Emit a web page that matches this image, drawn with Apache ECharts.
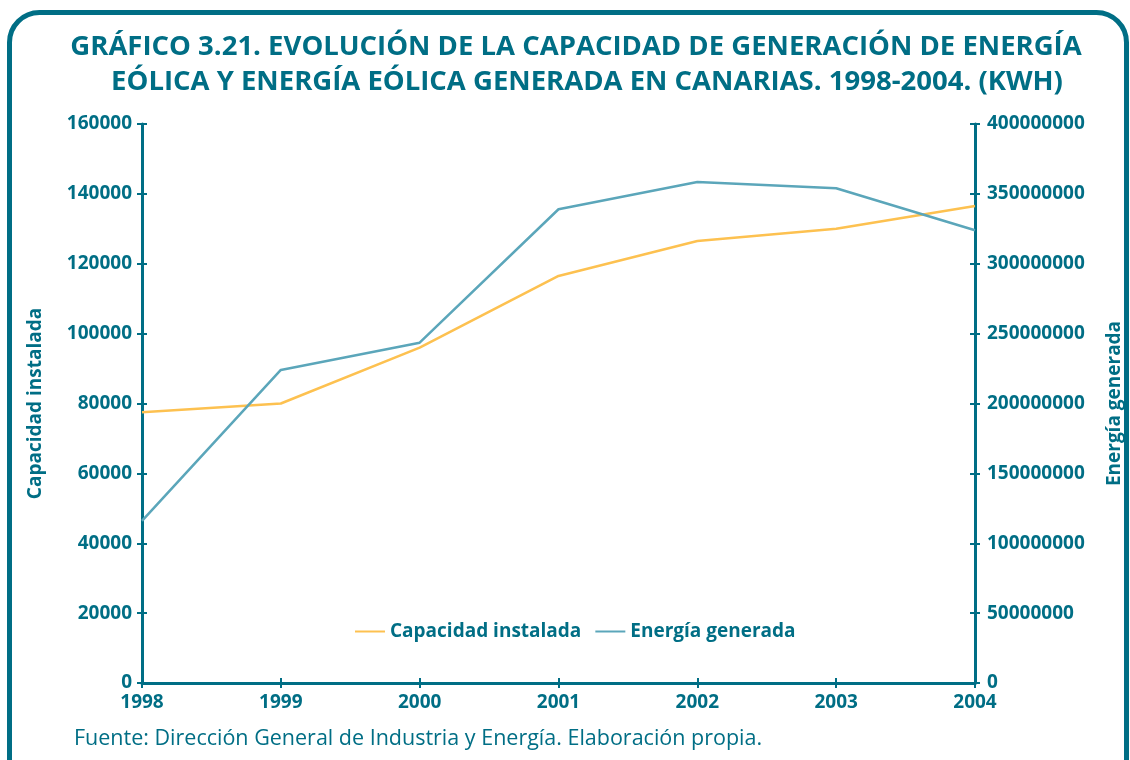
<!DOCTYPE html>
<html lang="es">

<head>
    <meta charset="UTF-8">
    <title>Gráfico 3.21</title>
    <script src="https://cdn.jsdelivr.net/npm/echarts@6/dist/echarts.min.js"></script>
    <style>
        * {
            padding: 0;
            margin: 0;
        }

        html, body {
            width: 1130px;
            height: 760px;
            overflow: hidden;
            background: #fff;
        }

        #chart {
            width: 1130px;
            height: 760px;
        }
    </style>
</head>

<body>
    <div id="chart"></div>
</body>
<script>
    // datos
    var years = ['1998', '1999', '2000', '2001', '2002', '2003', '2004'];
    var capacidad = [77500, 80000, 96000, 116500, 126500, 130000, 136500];
    var energia = [116000000, 224000000, 243500000, 339000000, 358500000, 354000000, 324000000];

    var teal = '#006e85';
    var font = '"Open Sans", "Noto Sans", sans-serif';

    function yAxisBase(pos, max, interval, inside) {
        return {
            type: 'value',
            position: pos,
            min: 0,
            max: max,
            interval: interval,
            splitLine: { show: false },
            axisLine: { show: !inside, lineStyle: { color: teal, width: 3 } },
            axisTick: { show: true, inside: inside, length: 5, lineStyle: { color: teal, width: 2 } },
            axisLabel: {
                show: !inside,
                color: teal,
                fontFamily: font,
                fontWeight: 'bold',
                fontSize: 19,
                margin: pos == 'left' ? 10 : 12,
                formatter: function (v) { return String(v); }
            }
        };
    }

    var yLeft = yAxisBase('left', 160000, 20000, false);
    yLeft.name = 'Capacidad instalada';
    yLeft.nameLocation = 'middle';
    yLeft.nameGap = 97;
    yLeft.nameTextStyle = { color: teal, fontFamily: font, fontWeight: 'bold', fontSize: 19 };

    var yRight = yAxisBase('right', 400000000, 50000000, false);
    yRight.name = 'Energía generada';
    yRight.nameLocation = 'middle';
    yRight.nameGap = 130;
    yRight.nameTextStyle = { color: teal, fontFamily: font, fontWeight: 'bold', fontSize: 19 };

    var titleFont = 'bold 27.5px ' + font;

    var chart = echarts.init(document.getElementById('chart'));
    var option = {
        animation: false,
        legend: {
            data: ['Capacidad instalada', 'Energía generada'],
            left: 350,
            top: 617,
            icon: 'rect',
            itemWidth: 30,
            itemHeight: 2,
            itemGap: 14,
            textStyle: { color: teal, fontFamily: font, fontWeight: 'bold', fontSize: 19 }
        },
        grid: {
            left: 142,
            right: 155,
            top: 124,
            bottom: 77,
            outerBoundsMode: 'none'
        },
        xAxis: [{
            type: 'category',
            data: years,
            boundaryGap: false,
            axisLine: { lineStyle: { color: teal, width: 3 } },
            axisTick: { length: 5, lineStyle: { color: teal, width: 2 } },
            axisLabel: {
                color: teal,
                fontFamily: font,
                fontWeight: 'bold',
                fontSize: 19,
                margin: 10,
                hideOverlap: false,
                interval: 0
            }
        }, {
            // segunda x solo para las marcas hacia dentro
            type: 'category',
            data: years,
            position: 'bottom',
            boundaryGap: false,
            axisLine: { show: false },
            axisTick: { inside: true, length: 5, lineStyle: { color: teal, width: 2 } },
            axisLabel: { show: false }
        }],
        yAxis: [yLeft, yRight,
            yAxisBase('left', 160000, 20000, true),
            yAxisBase('right', 400000000, 50000000, true)
        ],
        series: [{
            name: 'Capacidad instalada',
            type: 'line',
            yAxisIndex: 0,
            data: capacidad,
            showSymbol: false,
            lineStyle: { color: '#fdc150', width: 2.5 },
            itemStyle: { color: '#fdc150' }
        }, {
            name: 'Energía generada',
            type: 'line',
            yAxisIndex: 1,
            data: energia,
            showSymbol: false,
            lineStyle: { color: '#5ba6ba', width: 2.5 },
            itemStyle: { color: '#5ba6ba' }
        }],
        graphic: [{
            type: 'rect',
            silent: true,
            shape: { x: 9.5, y: 12.5, width: 1117, height: 800, r: 30 },
            style: { fill: 'none', stroke: teal, lineWidth: 5 }
        }, {
            type: 'text',
            x: 576,
            y: 47,
            style: {
                text: 'GRÁFICO 3.21. EVOLUCIÓN DE LA CAPACIDAD DE GENERACIÓN DE ENERGÍA',
                fill: teal,
                font: titleFont,
                align: 'center',
                verticalAlign: 'middle'
            }
        }, {
            type: 'text',
            x: 587,
            y: 82,
            style: {
                text: 'EÓLICA Y ENERGÍA EÓLICA GENERADA EN CANARIAS. 1998-2004. (KWH)',
                fill: teal,
                font: titleFont,
                align: 'center',
                verticalAlign: 'middle'
            }
        }, {
            type: 'text',
            left: 74,
            top: 728,
            style: {
                text: 'Fuente: Dirección General de Industria y Energía. Elaboración propia.',
                fill: teal,
                font: '21.5px ' + font
            }
        }]
    };
    chart.setOption(option);
</script>

</html>
